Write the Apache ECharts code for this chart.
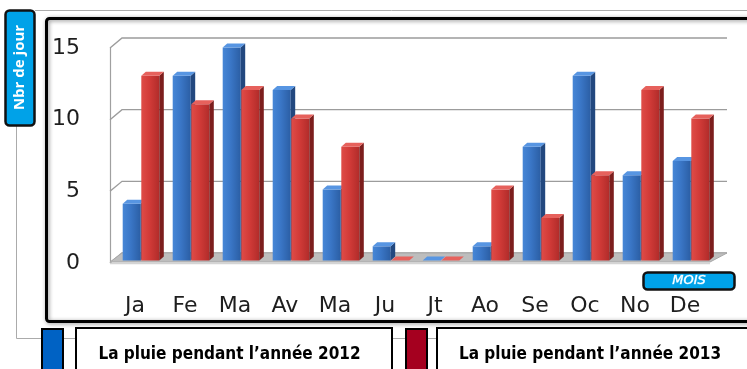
<!DOCTYPE html>
<html>
<head>
<meta charset="utf-8">
<script src="https://cdn.jsdelivr.net/npm/echarts@6/dist/echarts.min.js"></script>
<style>
  html, body { margin: 0; padding: 0; background: #fff; }
  #chart { width: 747px; height: 369px; }
</style>
</head>
<body>
<div id="chart"></div>
<script>
// Monthly rainy days, two years
const months = ['Ja', 'Fe', 'Ma', 'Av', 'Ma', 'Ju', 'Jt', 'Ao', 'Se', 'Oc', 'No', 'De'];
const rain2012 = [4, 13, 15, 12, 5, 1, 0, 1, 8, 13, 6, 7];
const rain2013 = [13, 11, 12, 10, 8, 0, 0, 5, 3, 6, 12, 10];
const seriesNames = ['La pluie pendant l’année 2012', 'La pluie pendant l’année 2013'];
const yTicks = [0, 5, 10, 15];
const yTitle = 'Nbr de jour';
const xTitle = 'MOIS';

const chart = echarts.init(document.getElementById('chart'), null, { renderer: 'canvas' });

// depth of the back wall relative to the front plane
const WALL_DX_L = 12, WALL_DX_R = 17, WALL_DY = 10;
// bar blocks sit a little behind the front plane
const BAR_DX = 4.5, BAR_DY = 4, BAR_SHIFT_Y = 2.5, BAR_SCALE = 0.991;

const palettes = [
  { front: ['#4686d6', '#3a76c6', '#2b5ea4'], side: '#22487f', top: '#5795e2' },
  { front: ['#df4c47', '#d23b38', '#b12c2a'], side: '#7c1e1d', top: '#e6615c' }
];

function grad(cols) {
  return new echarts.graphic.LinearGradient(0, 0, 1, 0, [
    { offset: 0, color: cols[0] },
    { offset: 0.45, color: cols[1] },
    { offset: 1, color: cols[2] }
  ]);
}

// 3D-looking block for one bar
function barRenderer(slot) {
  const pal = palettes[slot];
  return function (params, api) {
    const idx = api.value(0);
    const v = api.value(1);
    const base = api.coord([idx, 0]);
    const tip = api.coord([idx, v]);
    const band = api.size([1, 0])[0];
    const w = band * 0.36;
    const x0 = base[0] + (slot === 0 ? -band * 0.246 : band * 0.126);
    const yb = base[1] - BAR_SHIFT_Y;
    const yt = yb - (base[1] - tip[1]) * BAR_SCALE;
    const children = [];
    if (yb - yt > 0) {
      children.push({
        type: 'rect',
        shape: { x: x0, y: yt, width: w, height: yb - yt },
        style: { fill: grad(pal.front) }
      });
      children.push({
        type: 'polygon',
        shape: { points: [[x0 + w, yb], [x0 + w, yt], [x0 + w + BAR_DX, yt - BAR_DY], [x0 + w + BAR_DX, yb - BAR_DY]] },
        style: { fill: pal.side }
      });
    }
    children.push({
      type: 'polygon',
      shape: { points: [[x0, yt], [x0 + w, yt], [x0 + w + BAR_DX, yt - BAR_DY], [x0 + BAR_DX, yt - BAR_DY]] },
      style: { fill: pal.top }
    });
    return { type: 'group', children: children };
  };
}

// back wall gridlines, side connectors and floor slab
function frameRenderer(params, api) {
  const band = api.size([1, 0])[0];
  const left = api.coord([0, 0])[0] - band / 2;
  const right = api.coord([months.length - 1, 0])[0] + band / 2;
  const y0 = api.coord([0, 0])[1];
  const children = [];
  yTicks.forEach(function (t) {
    const y = api.coord([0, t])[1];
    children.push({
      type: 'polyline',
      shape: { points: [[left, y], [left + WALL_DX_L, y - WALL_DY], [right + WALL_DX_R, y - WALL_DY]] },
      style: { stroke: '#9c9c9c', lineWidth: 1.4, fill: null }
    });
  });
  children.push({
    type: 'polygon',
    shape: { points: [[left, y0 - 1], [right, y0 - 1], [right + WALL_DX_R, y0 - WALL_DY], [left + WALL_DX_L, y0 - WALL_DY]] },
    style: { fill: '#bdbdbd', stroke: '#a8a8a8', lineWidth: 1 }
  });
  children.push({
    type: 'line',
    shape: { x1: left, y1: y0 + 0.5, x2: right, y2: y0 + 0.5 },
    style: { stroke: '#d4d4d4', lineWidth: 1.5 }
  });
  return { type: 'group', children: children };
}

const textFont = 'DejaVu Sans';
const legendFont = '"Liberation Sans Narrow", "DejaVu Sans Condensed", "Open Sans", sans-serif';

chart.setOption({
  animation: false,
  backgroundColor: '#fff',
  grid: { left: 110, right: 37, top: 48, bottom: 106, containLabel: false },
  xAxis: {
    type: 'category',
    data: months,
    axisLine: { show: false },
    axisTick: { show: false },
    axisLabel: { margin: 32, fontSize: 22, color: '#1e1e1e', fontFamily: textFont }
  },
  yAxis: {
    type: 'value',
    min: 0, max: 15, interval: 5,
    axisLine: { show: true, lineStyle: { color: '#a0a0a0', width: 1.2 } },
    axisTick: { show: false },
    splitLine: { show: false },
    axisLabel: { margin: 30, fontSize: 22, color: '#1e1e1e', fontFamily: textFont }
  },
  series: [
    {
      type: 'custom', name: 'frame', z: 1, silent: true,
      renderItem: frameRenderer,
      data: [[0, 0]],
      encode: { x: 0, y: 1 }
    },
    {
      type: 'custom', name: seriesNames[0], z: 2,
      renderItem: barRenderer(0),
      data: rain2012.map(function (v, i) { return [i, v]; }),
      encode: { x: 0, y: 1 }
    },
    {
      type: 'custom', name: seriesNames[1], z: 3,
      renderItem: barRenderer(1),
      data: rain2013.map(function (v, i) { return [i, v]; }),
      encode: { x: 0, y: 1 }
    }
  ],
  graphic: [
    // outer thin frame
    {
      type: 'polyline', z: 0,
      shape: { points: [[35, 10.5], [760, 10.5]] },
      style: { stroke: '#ababab', lineWidth: 1, fill: null }
    },
    {
      type: 'polyline', z: 0,
      shape: { points: [[16.5, 126], [16.5, 338.5], [760, 338.5]] },
      style: { stroke: '#ababab', lineWidth: 1, fill: null }
    },
    // plot frame
    {
      type: 'rect', z: 5,
      shape: { x: 46.5, y: 18.5, width: 760, height: 303, r: 3 },
      style: {
        fill: 'rgba(0,0,0,0)', stroke: '#000', lineWidth: 3,
        shadowBlur: 4, shadowColor: 'rgba(0,0,0,0.45)', shadowOffsetX: 1, shadowOffsetY: 1
      }
    },
    // y title badge
    {
      type: 'rect', z: 6,
      shape: { x: 5.5, y: 10.5, width: 29, height: 115, r: 4 },
      style: { fill: '#00a2e8', stroke: '#111', lineWidth: 2.5 }
    },
    {
      type: 'text', z: 7, x: 20, y: 67.5, rotation: Math.PI / 2,
      style: {
        text: yTitle, fill: '#fff', fontSize: 15, fontWeight: 'bold',
        fontFamily: 'Open Sans, sans-serif', align: 'center', verticalAlign: 'middle'
      }
    },
    // x title badge
    {
      type: 'rect', z: 6,
      shape: { x: 643.5, y: 272.5, width: 91, height: 17, r: 4 },
      style: { fill: '#00a2e8', stroke: '#111', lineWidth: 2.5 }
    },
    {
      type: 'text', z: 7, x: 689, y: 281,
      style: {
        text: xTitle, fill: '#fff', fontSize: 13, fontStyle: 'italic',
        fontFamily: 'DejaVu Sans, sans-serif', align: 'center', verticalAlign: 'middle',
        stroke: '#9be0ff', lineWidth: 0.6
      }
    },
    // legend
    {
      type: 'rect', z: 6,
      shape: { x: 42, y: 329, width: 21, height: 60 },
      style: { fill: '#0062c4', stroke: '#000', lineWidth: 2 }
    },
    {
      type: 'rect', z: 6,
      shape: { x: 76, y: 328, width: 316, height: 60 },
      style: { fill: '#fff', stroke: '#000', lineWidth: 2 }
    },
    {
      type: 'text', z: 7, x: 229.5, y: 355,
      style: {
        text: seriesNames[0], fill: '#000', fontSize: 17, fontWeight: 'bold',
        fontFamily: legendFont, align: 'center', verticalAlign: 'middle'
      }
    },
    {
      type: 'rect', z: 6,
      shape: { x: 406, y: 329, width: 21, height: 60 },
      style: { fill: '#a5001f', stroke: '#000', lineWidth: 2 }
    },
    {
      type: 'rect', z: 6,
      shape: { x: 437, y: 328, width: 340, height: 60 },
      style: { fill: '#fff', stroke: '#000', lineWidth: 2 }
    },
    {
      type: 'text', z: 7, x: 590, y: 355,
      style: {
        text: seriesNames[1], fill: '#000', fontSize: 17, fontWeight: 'bold',
        fontFamily: legendFont, align: 'center', verticalAlign: 'middle'
      }
    }
  ]
});
</script>
</body>
</html>
